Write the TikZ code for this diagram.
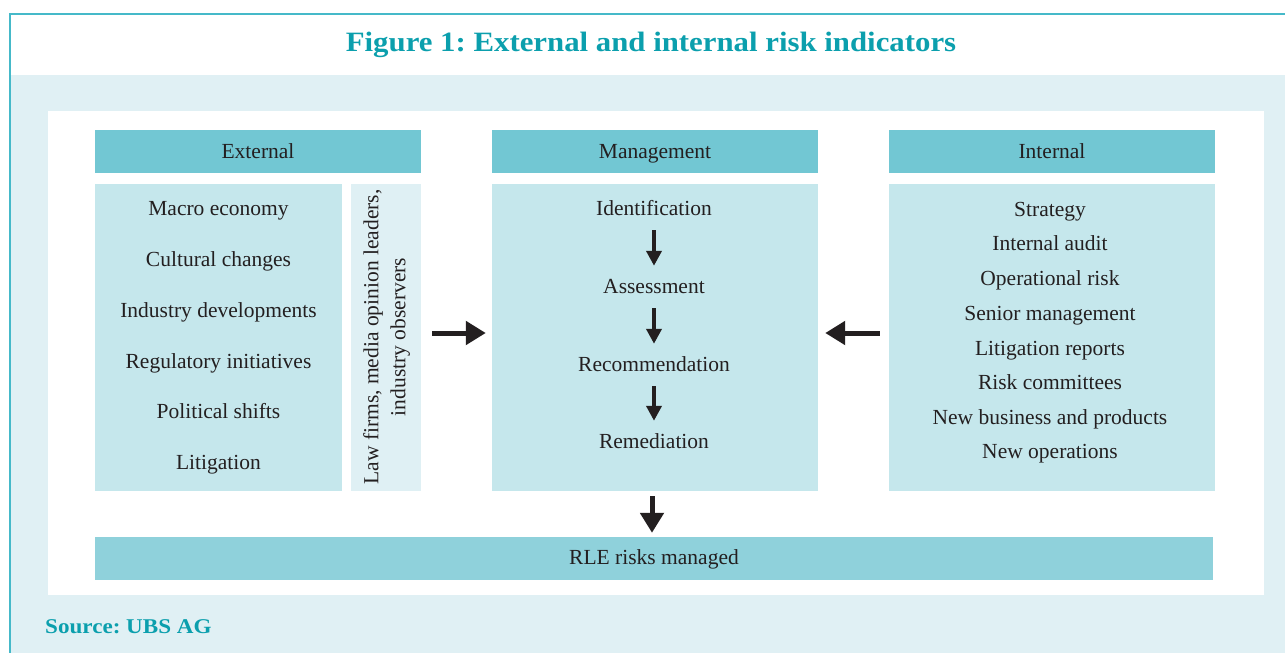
\documentclass[tikz,border=0pt]{standalone}
\usepackage{fontspec}
\setmainfont{Liberation Serif}
\newfontfamily\headfont{Liberation Serif}[FakeStretch=1.1]
\usepackage{xcolor}
\usetikzlibrary{arrows.meta,positioning}
\frenchspacing

\definecolor{titleteal}{HTML}{0B9FAD}
\definecolor{frameteal}{HTML}{45B9C9}
\definecolor{pageblue}{HTML}{E0F0F4}
\definecolor{headblue}{HTML}{72C7D3}
\definecolor{boxblue}{HTML}{C5E7EC}
\definecolor{lawblue}{HTML}{DFF0F4}
\definecolor{rleblue}{HTML}{8FD1DB}
\definecolor{ink}{HTML}{231F20}

\begin{document}
\begin{tikzpicture}[x=1pt,y=-1pt,text=ink,
  font=\fontsize{21.5}{27}\selectfont,
  head/.style={fill=headblue,minimum width=326pt,minimum height=43pt,inner sep=0pt,text height=16pt,text depth=3pt},
  box/.style={fill=boxblue,minimum height=307pt,inner sep=0pt},
  item/.style={inner sep=0pt,text height=14pt,text depth=4pt},
  bigarrow/.style={draw=ink,line width=5pt,-{Triangle[length=20pt,width=23pt]}},
  smallarrow/.style={draw=ink,line width=4pt,-{Triangle[length=15pt,width=15pt]},shorten <=11pt,shorten >=13pt}]
\useasboundingbox (0,0) rectangle (1285,653);

\fill[pageblue] (10,75) rectangle (1285,653);
\fill[white] (48,111) rectangle (1264,595);
\draw[frameteal,line width=2pt] (10,653) -- (10,14) -- (1285,14);

\node[anchor=base,inner sep=0pt,text=titleteal,font=\headfont\bfseries\fontsize{28}{30}\selectfont] (title) at (651,51) {Figure 1: External and internal risk indicators};
\node[anchor=base west,inner sep=0pt,text=titleteal,font=\headfont\bfseries\fontsize{21}{24}\selectfont] (source) at (45,633) {Source: UBS AG};

\node[head] (exthead) at (258,151.5) {External};
\node[head] (mgmthead) at (655,151.5) {Management};
\node[head] (inthead) at (1052,151.5) {Internal};

\node[box,minimum width=247pt] (ext) at (218.5,337.5) {};
\node[box,minimum width=70pt,fill=lawblue] (law) at (386,337.5) {};
\node[box,minimum width=326pt] (mgmt) at (655,337.5) {};
\node[box,minimum width=326pt] (int) at (1052,337.5) {};
\node[fill=rleblue,minimum width=1118pt,minimum height=43pt,inner sep=0pt,text height=15pt,text depth=4pt] (rle) at (654,558.5) {RLE risks managed};

\foreach \name/\y in {Macro economy/210,Cultural changes/261,Industry developments/312,
    Regulatory initiatives/363,Political shifts/413,Litigation/464}
  \node[item] at (218.5,\y) {\name};

\node[rotate=90,align=center,inner sep=0pt] (lawtext) at (386.5,337) {Law firms, media opinion leaders,\\industry observers};

\foreach \name/\y in {Strategy/211,Internal audit/245,Operational risk/280,Senior management/315,
    Litigation reports/350,Risk committees/384,New business and products/419,New operations/453}
  \node[item] at (1050,\y) {\name};

\node[item] (ident) at (654,210) {Identification};
\node[item] (assess) at (654,288) {Assessment};
\node[item] (recom) at (654,366) {Recommendation};
\node[item] (remed) at (654,443) {Remediation};

\draw[smallarrow] (ident) -- (assess);
\draw[smallarrow] (assess) -- (recom);
\draw[smallarrow] (recom) -- (remed);

\draw[bigarrow,shorten <=11pt,shorten >=6pt] ([yshift=4.5pt]law.east) -- ([yshift=4.5pt]mgmt.west);
\draw[bigarrow,shorten <=9pt,shorten >=7pt] ([yshift=4.5pt]int.west) -- ([yshift=4.5pt]mgmt.east);
\draw[bigarrow,shorten <=5pt,shorten >=4pt] ([xshift=-3pt]mgmt.south) -- ([xshift=-3pt]mgmt.south |- rle.north);
\end{tikzpicture}
\end{document}
